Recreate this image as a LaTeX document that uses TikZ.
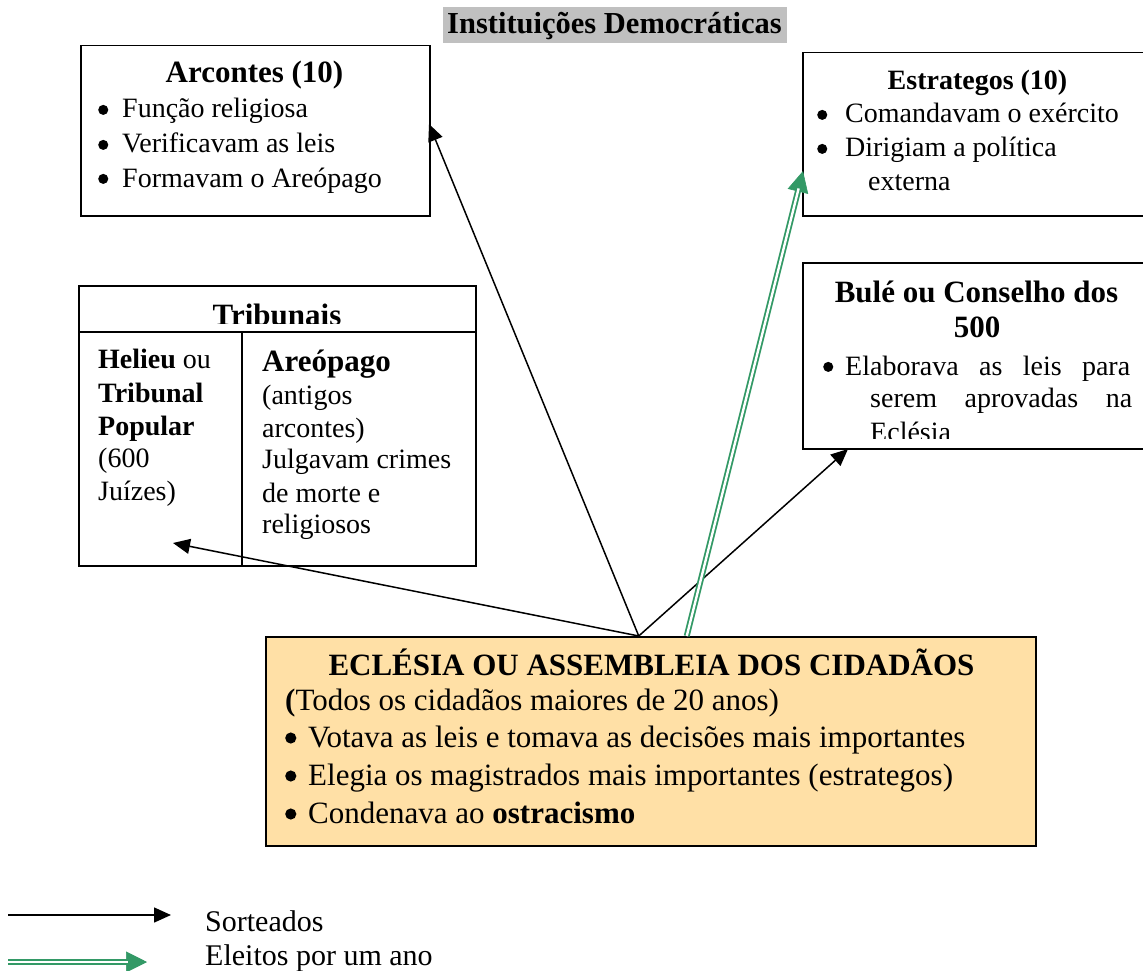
\documentclass[tikz,border=0pt]{standalone}
\usepackage{fontspec}
\setmainfont{Liberation Serif}
\usetikzlibrary{arrows.meta,calc}
\definecolor{eclfill}{HTML}{FFE0A6}
\definecolor{egreen}{HTML}{339966}
\definecolor{hlgray}{HTML}{C0C0C0}
\newcommand{\mybul}[1]{\makebox[#1pt][l]{\tikz[baseline={(0pt,-0.29em)}]\fill (0pt,0pt) circle (0.18em);}}
\begin{document}
\begin{tikzpicture}[x=1pt,y=-1pt,
  box/.style={draw, line width=1.5pt, inner sep=0pt, anchor=north west},
  t28/.style={anchor=base west, inner sep=0pt, font=\fontsize{28}{33}\selectfont},
  t31/.style={anchor=base west, inner sep=0pt, font=\fontsize{31}{37}\selectfont},
  t31b/.style={anchor=base west, inner sep=0pt, font=\fontsize{31}{37}\selectfont\bfseries},
  head31/.style={anchor=base, inner sep=0pt, font=\fontsize{31}{37}\selectfont\bfseries},
  head28/.style={anchor=base, inner sep=0pt, font=\fontsize{28}{33}\selectfont\bfseries},
  sorteio/.style={line width=1.5pt, -{Triangle[length=17pt,width=15pt]}},
  eleitoline/.style={draw=egreen, line width=1.8pt, double=white, double distance=2.4pt},
  eleitohead/.style={egreen, line width=0.6pt, -{Triangle[length=21pt,width=21pt]}},
]
\useasboundingbox (0,0) rectangle (1143,971);
\clip (0,0) rectangle (1143,971);

% title
\node[fill=hlgray, inner sep=0pt, minimum width=344pt, minimum height=36pt, anchor=north west] (titlebg) at (443,7) {};
\node[anchor=base west, inner sep=0pt, font=\fontsize{30.5}{36}\selectfont\bfseries] (title) at (447,34) {Instituições Democráticas};

% Arcontes
\node[box, minimum width=349pt, minimum height=170pt] (arco) at (80,45) {};
\node[head31] (arcoT) at (254.5,83) {Arcontes (10)};
\node[t28] (arco1) at (98,118) {\mybul{24}Função religiosa};
\node[t28] (arco2) at (98,153) {\mybul{24}Verificavam as leis};
\node[t28] (arco3) at (98,187) {\mybul{24}Formavam o Areópago};

% Estrategos
\node[box, minimum width=360pt, minimum height=163pt] (estr) at (802,52) {};
\node[head28] (estrT) at (977.5,90) {Estrategos (10)};
\node[t28] (estr1) at (817,123) {\mybul{28}Comandavam o exército};
\node[t28] (estr2) at (817,157) {\mybul{28}Dirigiam a política};
\node[t28] (estr3) at (868,190) {externa};

% Bule
\node[box, minimum width=360pt, minimum height=186pt] (bule) at (802,262) {};
\node[head31] (buleT1) at (976.5,302) {Bulé ou Conselho dos};
\node[head31] (buleT2) at (977,337) {500};
\node[t28] (bule1) at (823,375) {\mybul{22}\makebox[285pt][s]{Elaborava as leis para}};
\node[t28] (bule2) at (870,407) {\makebox[262pt][s]{serem aprovadas na}};
\begin{scope}
  \clip (802,262) rectangle (1143,438);
  \node[t28] (bule3) at (870,441) {Eclésia};
\end{scope}

% Tribunais
\node[box, minimum width=397pt, minimum height=280pt] (trib) at (78,285) {};
\draw[line width=1.5pt] (78,332) -- (475,332);
\draw[line width=1.5pt] (242,332) -- (242,565);
\begin{scope}
  \clip (78,285) rectangle (475,323);
  \node[head31] (tribT) at (277,325) {Tribunais};
\end{scope}
\node[t28] (hel1) at (98,368) {\textbf{Helieu} ou};
\node[t28] (hel2) at (98,402) {\textbf{Tribunal}};
\node[t28] (hel3) at (98,435) {\textbf{Popular}};
\node[t28] (hel4) at (98,467) {(600};
\node[t28] (hel5) at (98,500) {Juízes)};
\node[t31b] (are1) at (262,371) {Areópago};
\node[t28] (are2) at (262,404) {(antigos};
\node[t28] (are3) at (262,437) {arcontes)};
\node[t28] (are4) at (262,468) {Julgavam crimes};
\node[t28] (are5) at (262,502) {de morte e};
\node[t28] (are6) at (262,533) {religiosos};

% Eclesia
\node[box, fill=eclfill, minimum width=770pt, minimum height=209pt] (ecl) at (265,636) {};
\node[head31] (eclT) at (651.5,675) {ECLÉSIA OU ASSEMBLEIA DOS CIDADÃOS};
\node[t31] (ecl1) at (285,710) {\textbf{(}Todos os cidadãos maiores de 20 anos)};
\node[t31] (ecl2) at (285,747) {\mybul{23}Votava as leis e tomava as decisões mais importantes};
\node[t31] (ecl3) at (285,785) {\mybul{23}Elegia os magistrados mais importantes (estrategos)};
\node[t31] (ecl4) at (285,823) {\mybul{23}Condenava ao \textbf{ostracismo}};

% connectors
\coordinate (srcK) at ($(ecl.north)+(-12,0)$);
\coordinate (srcG) at ($(ecl.north)+(36,0)$);
\coordinate (tipArco) at (429,124);
\coordinate (tipTrib) at (173,543);
\coordinate (tipBule) at (848,449);
\coordinate (tipEstr) at (803,171);
\draw[sorteio] (srcK) -- (tipArco);
\draw[sorteio] (srcK) -- (tipTrib);
\draw[sorteio] (srcK) -- (tipBule);
\draw[eleitohead] (srcG) -- (tipEstr);
\draw[eleitoline, shorten >=18pt] (srcG) -- (tipEstr);

% legend
\coordinate (lk1) at (8,915);
\coordinate (lk2) at (171,915);
\draw[sorteio] (lk1) -- (lk2);
\node[anchor=base west, inner sep=0pt, font=\fontsize{30}{36}\selectfont] (legK) at (205,931) {Sorteados};
\coordinate (lg1) at (8,962);
\coordinate (lg2) at (147,962);
\draw[eleitohead] (lg1) -- (lg2);
\draw[eleitoline, shorten >=19pt] (lg1) -- (lg2);
\node[anchor=base west, inner sep=0pt, font=\fontsize{30}{36}\selectfont] (legG) at (205,965) {Eleitos por um ano};
\end{tikzpicture}
\end{document}
